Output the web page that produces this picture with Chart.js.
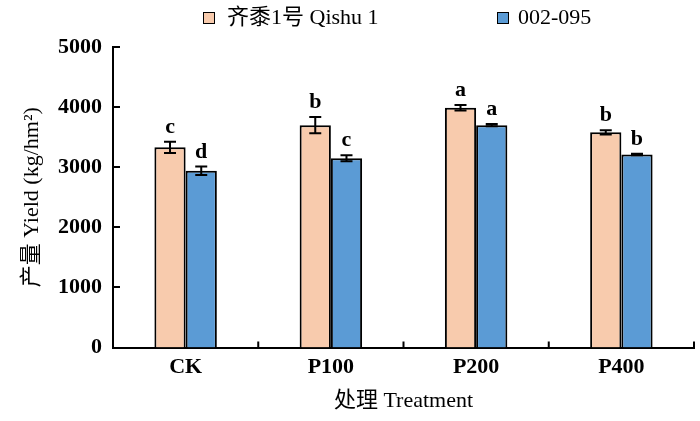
<!DOCTYPE html>
<html><head><meta charset="utf-8">
<script src="https://cdn.jsdelivr.net/npm/chart.js@4.4.0/dist/chart.umd.min.js"></script>
<style>html,body{margin:0;padding:0;background:#fff}#wrap{width:700px;height:421px}</style>
</head><body><div id="wrap"><canvas id="c" width="700" height="421"></canvas></div>
<script>
const categories = ['CK', 'P100', 'P200', 'P400'];
const seriesNames = ['齐黍1号 Qishu 1', '002-095'];
const qishuValues = [3330, 3700, 3990, 3580];
const qishuErrors = [95, 135, 45, 35];
const qishuLetters = ['c', 'b', 'a', 'b'];
const lineValues = [2940, 3150, 3700, 3210];
const lineErrors = [70, 50, 20, 12];
const lineLetters = ['d', 'c', 'a', 'b'];
const yTickValues = [0, 1000, 2000, 3000, 4000, 5000];
const xTitle = '处理 Treatment';
const yTitle = '产量 Yield (kg/hm²)';

const FONT = '"Liberation Serif", "Noto Sans CJK SC", serif';
const errors = [qishuErrors, lineErrors];
const letters = [qishuLetters, lineLetters];

const overlay = {
  id: 'overlay',
  afterDatasetsDraw(chart) {
    const ctx = chart.ctx;
    const y = chart.scales.y;
    ctx.save();
    ctx.strokeStyle = '#000';
    ctx.lineWidth = 2;
    chart.data.datasets.forEach((ds, di) => {
      const meta = chart.getDatasetMeta(di);
      meta.data.forEach((bar, i) => {
        const v = ds.data[i], e = errors[di][i];
        const x = bar.x;
        const yt = y.getPixelForValue(v + e), yb = y.getPixelForValue(v - e);
        ctx.beginPath();
        ctx.moveTo(x, yt); ctx.lineTo(x, yb);
        ctx.moveTo(x - 6, yt); ctx.lineTo(x + 6, yt);
        ctx.moveTo(x - 6, yb); ctx.lineTo(x + 6, yb);
        ctx.stroke();
        ctx.fillStyle = '#000';
        ctx.font = 'bold 22px ' + FONT;
        ctx.textAlign = 'center';
        ctx.textBaseline = 'alphabetic';
        ctx.fillText(letters[di][i], x, yt - 9);
      });
    });
    ctx.restore();
  },
  afterDraw(chart) {
    const ctx = chart.ctx;
    const a = chart.chartArea;
    const y = chart.scales.y;
    ctx.save();
    ctx.strokeStyle = '#000';
    ctx.lineWidth = 2;
    ctx.beginPath();
    yTickValues.forEach(v => {
      const py = Math.round(y.getPixelForValue(v));
      ctx.moveTo(a.left, py); ctx.lineTo(a.left + 7, py);
    });
    const n = categories.length;
    for (let i = 1; i <= n; i++) {
      const px = a.left + (a.right - a.left) * i / n;
      ctx.moveTo(px, a.bottom); ctx.lineTo(px, a.bottom - 6);
    }
    ctx.stroke();
    // legend
    const items = [{x: 203, tx: 227}, {x: 497, tx: 518}];
    ctx.font = '22px ' + FONT;
    ctx.textBaseline = 'middle';
    ctx.textAlign = 'left';
    chart.data.datasets.forEach((ds, di) => {
      const it = items[di];
      ctx.fillStyle = ds.backgroundColor;
      ctx.fillRect(it.x, 12, 12, 12);
      ctx.lineWidth = 1;
      ctx.strokeRect(it.x + 0.5, 12.5, 11, 11);
      ctx.fillStyle = '#000';
      ctx.fillText(ds.label, it.tx, 18);
    });
    ctx.restore();
  }
};

new Chart(document.getElementById('c'), {
  type: 'bar',
  data: {
    labels: categories,
    datasets: [
      {label: seriesNames[0], data: qishuValues, backgroundColor: '#F8CBAD', borderColor: '#000', borderWidth: 2, borderSkipped: 'bottom'},
      {label: seriesNames[1], data: lineValues, backgroundColor: '#5B9BD5', borderColor: '#000', borderWidth: 2, borderSkipped: 'bottom'}
    ]
  },
  options: {
    responsive: false,
    animation: false,
    devicePixelRatio: 1,
    layout: {padding: {top: 47, left: 15, right: 6, bottom: 3}},
    categoryPercentage: 0.43,
    barPercentage: 1.0,
    plugins: {legend: {display: false}, tooltip: {enabled: false}},
    scales: {
      x: {
        grid: {display: false, drawTicks: false},
        border: {color: '#000', width: 2},
        ticks: {color: '#000', font: {family: FONT, size: 22, weight: 'bold'}, padding: 7},
        title: {display: true, text: xTitle, color: '#000', font: {family: FONT, size: 22}},
        afterFit(s) { s.height = 70.5; }
      },
      y: {
        min: 0, max: 5000,
        afterBuildTicks(s) { s.ticks = yTickValues.map(v => ({value: v})); },
        grid: {display: false, drawTicks: false},
        border: {color: '#000', width: 2},
        ticks: {color: '#000', font: {family: FONT, size: 22, weight: 'bold'}, padding: 11, callback: v => String(v)},
        title: {display: true, text: yTitle, color: '#000', font: {family: FONT, size: 22}},
        afterFit(s) { s.width = 98; }
      }
    }
  },
  plugins: [overlay]
});
</script></body></html>
